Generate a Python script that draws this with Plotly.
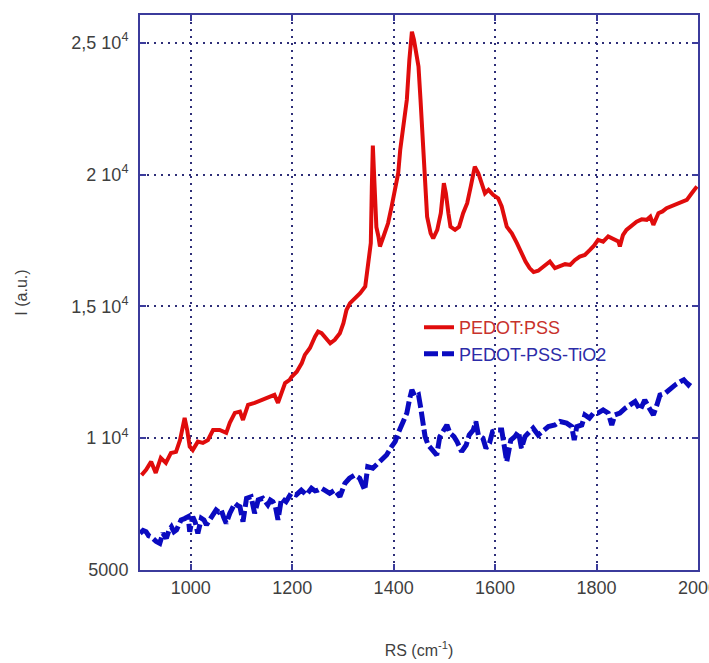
import plotly.graph_objects as go

# Raman spectra: wavenumber (cm-1) and intensity (a.u.)
pedot_x = [903, 912, 922, 931, 941, 951, 961, 971, 979, 988, 993, 998, 1004, 1014, 1024,
           1034, 1044, 1057, 1070, 1077, 1087, 1097, 1103, 1113, 1126, 1142, 1156, 1165,
           1172, 1176, 1182, 1186, 1195, 1199, 1209, 1219, 1225, 1235, 1245, 1251, 1258,
           1268, 1275, 1284, 1294, 1301, 1307, 1314, 1324, 1334, 1344, 1350, 1355, 1357,
           1359, 1361, 1363, 1366, 1370, 1373, 1380, 1389, 1396, 1403, 1409, 1413, 1419,
           1426, 1431, 1436, 1440, 1444, 1449, 1453, 1458, 1462, 1466, 1473, 1478, 1486,
           1493, 1499, 1503, 1508, 1512, 1521, 1529, 1537, 1545, 1552, 1560, 1567, 1574,
           1580, 1587, 1596, 1606, 1613, 1623, 1633, 1643, 1652, 1660, 1668, 1676, 1685,
           1695, 1708, 1718, 1728, 1738, 1748, 1757, 1767, 1777, 1787, 1795, 1803, 1813,
           1823, 1833, 1843, 1846, 1852, 1859, 1869, 1879, 1889, 1899, 1906, 1912, 1922,
           1930, 1938, 1948, 1958, 1968, 1978, 1988, 1998]
pedot_y = [8600, 8800, 9110, 8680, 9250, 9060, 9440, 9480, 9930, 10770, 10310, 9680, 9550,
           9870, 9820, 9930, 10310, 10310, 10200, 10580, 10960, 11010, 10690, 11260, 11340,
           11450, 11580, 11640, 11340, 11580, 11950, 12090, 12210, 12330, 12520, 12850,
           13160, 13420, 13850, 14040, 13980, 13730, 13600, 13730, 13980, 14360, 14860,
           15120, 15310, 15500, 15750, 16760, 17400, 19500, 21100, 20200, 19040, 18000,
           17650, 17270, 17650, 18150, 18780, 19420, 20050, 20940, 21950, 22830, 24350,
           25420, 25110, 24730, 24100, 22830, 21310, 19670, 18400, 17770, 17580, 17900,
           18530, 19670, 19290, 18530, 18020, 17900, 18020, 18530, 18910, 19540, 20300,
           20050, 19670, 19290, 19420, 19230, 19100, 18790, 18020, 17770, 17400, 17000,
           16700, 16450, 16300, 16350, 16500, 16700, 16450, 16510, 16600, 16570, 16750,
           16890, 16950, 17140, 17300, 17520, 17450, 17650, 17550, 17460, 17270, 17700,
           17900, 18050, 18210, 18300, 18280, 18400, 18090, 18530, 18600, 18720, 18800,
           18910, 19000, 19040, 19300, 19550]

tio2_x = [900, 906, 912, 917, 922, 927, 932, 939, 945, 952, 957, 962, 967, 972, 976, 981,
          988, 995, 998, 1004, 1009, 1014, 1021, 1026, 1031, 1036, 1041, 1050, 1055, 1060,
          1065, 1070, 1077, 1082, 1087, 1092, 1097, 1103, 1110, 1119, 1126, 1133, 1142,
          1147, 1152, 1157, 1162, 1167, 1172, 1179, 1188, 1198, 1208, 1218, 1228, 1238,
          1245, 1251, 1258, 1264, 1274, 1284, 1294, 1304, 1313, 1323, 1333, 1343, 1349,
          1359, 1369, 1376, 1386, 1396, 1403, 1409, 1419, 1426, 1431, 1436, 1442, 1449,
          1453, 1457, 1462, 1468, 1477, 1485, 1491, 1498, 1505, 1511, 1519, 1525, 1534,
          1543, 1549, 1557, 1562, 1567, 1576, 1582, 1589, 1595, 1604, 1613, 1619, 1623,
          1631, 1639, 1646, 1652, 1659, 1667, 1675, 1685, 1692, 1705, 1718, 1728, 1741,
          1751, 1756, 1761, 1771, 1777, 1786, 1794, 1803, 1813, 1823, 1830, 1836, 1846,
          1856, 1866, 1876, 1886, 1895, 1902, 1912, 1919, 1925, 1935, 1945, 1955, 1965,
          1972, 1981, 1985, 1990]
tio2_y = [6390, 6500, 6450, 6300, 6260, 6150, 6080, 6010, 6390, 6200, 6500, 6640, 6450,
          6520, 6750, 6900, 6950, 7020, 6450, 7020, 6800, 6390, 6960, 6900, 6710, 6850,
          7020, 7280, 7200, 7280, 7000, 6770, 7150, 7350, 7530, 7450, 7400, 6830, 7720,
          7780, 7150, 7660, 7720, 7600, 7470, 7650, 7590, 7400, 6900, 7720, 7590, 7910,
          7850, 8030, 7850, 8100, 8000, 8030, 8100, 8030, 7910, 8030, 7780, 8290, 8480,
          8600, 8480, 8030, 8920, 8860, 9050, 9170, 9360, 9680, 9870, 10190, 10630, 10950,
          11450, 11830, 11580, 11640, 11200, 10690, 10060, 9740, 9550, 9360, 10060, 10310,
          10500, 10190, 10060, 9870, 9490, 9740, 10120, 10310, 10630, 10120, 10000, 9620,
          9810, 10250, 10310, 10310, 9550, 9110, 9930, 10060, 10250, 9620, 10060, 10250,
          10380, 10120, 10250, 10440, 10500, 10630, 10570, 10440, 9930, 10440, 10500,
          10880, 10760, 10950, 10950, 11070, 10950, 10500, 10880, 10950, 11130, 11260,
          11390, 11070, 11450, 11200, 10880, 11260, 11640, 11700, 11890, 12020, 12140,
          12210, 12020, 12120, 12050]

y_tick_vals = [5000, 10000, 15000, 20000, 25000]
y_tick_text = ["5000", "1 10<sup>4</sup>", "1,5 10<sup>4</sup>", "2 10<sup>4</sup>",
               "2,5 10<sup>4</sup>"]
x_tick_vals = [1000, 1200, 1400, 1600, 1800, 2000]

FRAME = "#3b3b9c"
GRID = "#2e2e78"
FONT = "Liberation Sans, Arial, sans-serif"
TEXT = "#3f3f3f"

fig = go.Figure()
fig.add_trace(go.Scatter(
    x=pedot_x, y=pedot_y, mode="lines",
    name="<span style='color:#c8322c'>PEDOT:PSS</span>",
    line=dict(color="#e00c0c", width=4),
))
fig.add_trace(go.Scatter(
    x=tio2_x, y=tio2_y, mode="lines",
    name="<span style='color:#2c2ca8'>PEDOT-PSS-TiO2</span>",
    line=dict(color="#0a0ac0", width=5, dash="14px,4px"),
))

axis_common = dict(
    showline=True, linecolor=FRAME, linewidth=2, mirror="ticks",
    ticks="inside", ticklen=6, tickcolor=FRAME, tickwidth=2,
    showgrid=True, gridcolor=GRID, gridwidth=1.5, griddash="2px,5px",
    zeroline=False, ticklabeloverflow="allow", automargin=False,
    tickfont=dict(family=FONT, size=18, color=TEXT),
)

fig.update_layout(
    width=709, height=663,
    margin=dict(l=140, r=11, t=15, b=93, autoexpand=False),
    paper_bgcolor="white", plot_bgcolor="white",
    font=dict(family=FONT, size=18, color=TEXT),
    xaxis=dict(
        range=[900, 2000], tickvals=x_tick_vals,
        title=dict(text="RS (cm<sup>-1</sup>)", standoff=48,
                   font=dict(family=FONT, size=16, color=TEXT)),
        **axis_common,
    ),
    yaxis=dict(
        range=[5000, 26050], tickvals=y_tick_vals, ticktext=y_tick_text,
        ticklabelstandoff=6,
        title=dict(text="I (a.u.)", standoff=40,
                   font=dict(family=FONT, size=16, color=TEXT)),
        **axis_common,
    ),
    legend=dict(
        x=0.50, y=0.47, xanchor="left", yanchor="top",
        bgcolor="rgba(0,0,0,0)", borderwidth=0,
        font=dict(family=FONT, size=18),
        tracegroupgap=0,
    ),
    showlegend=True,
)

fig.write_html("out.html")
